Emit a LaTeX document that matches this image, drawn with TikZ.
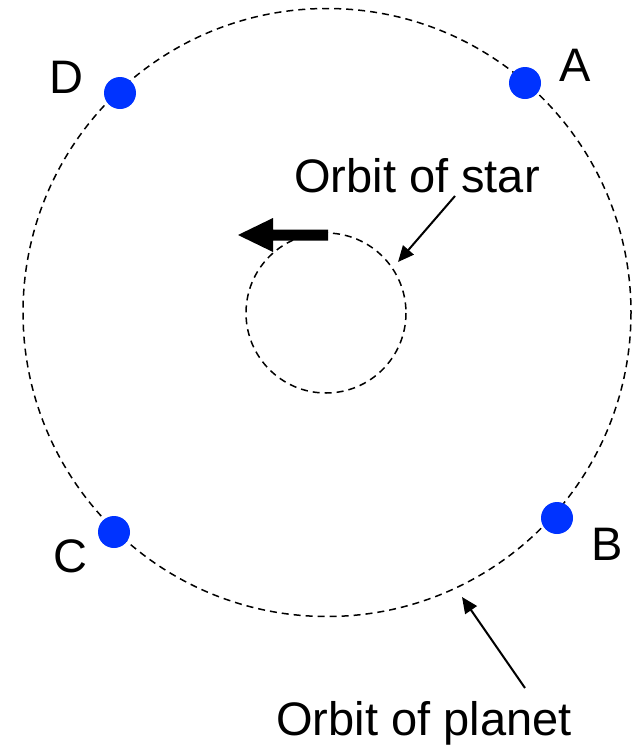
\documentclass[tikz,border=0pt]{standalone}
\usepackage{fontspec}
\setmainfont{Liberation Sans}
\usetikzlibrary{arrows.meta}
\definecolor{dotblue}{RGB}{0,51,255}
\tikzset{
  orbit/.style={draw=black, line width=1.5pt, dash pattern=on 7pt off 5pt},
  planetdot/.style={circle, fill=dotblue, draw=none, minimum size=32pt, inner sep=0pt},
  lbl/.style={font=\fontsize{47}{56}\selectfont, inner sep=0pt, anchor=base},
  pointer/.style={draw=black, line width=2pt, -{Triangle[length=16pt,width=14pt]}}
}
\begin{document}
\begin{tikzpicture}[x=1pt,y=-1pt]
\useasboundingbox (0,0) rectangle (643,750);
% orbits
\draw[orbit] (327,312.5) circle (304);
\draw[orbit] (326,313) circle (80);
% planets
\node[planetdot] (A) at (525,83) {};
\node[planetdot] (B) at (557,518) {};
\node[planetdot] (C) at (114,532) {};
\node[planetdot] (D) at (120,93) {};
% letters
\node[lbl] (la) at (575,81) {A};
\node[lbl] (lb) at (607,560) {B};
\node[lbl] (lc) at (70,572) {C};
\node[lbl] (ld) at (66,93) {D};
% star motion arrow
\fill[black] (328,229.5) -- (273,229.5) -- (273,218) -- (238,235) -- (273,252) -- (273,240.5) -- (328,240.5) -- cycle;
% labels
\node[lbl] (ostar) at (417,192) {Orbit of star};
\node[lbl] (oplanet) at (424,735) {Orbit of planet};
\coordinate (s1) at (455,196);
\coordinate (s2) at (398,262);
\coordinate (p1) at (525,688);
\coordinate (p2) at (462,597);
\draw[pointer] (s1) -- (s2);
\draw[pointer] (p1) -- (p2);
\end{tikzpicture}
\end{document}
